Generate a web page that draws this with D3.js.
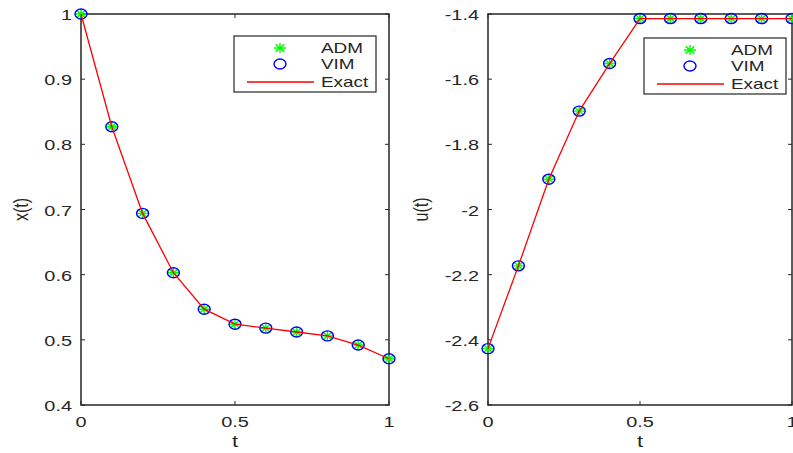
<!DOCTYPE html>
<html>
<head>
<meta charset="utf-8">
<script src="https://cdn.jsdelivr.net/npm/d3@7"></script>
<style>
  body { margin: 0; background: #fff; }
  svg { display: block; }
  text { font-family: "Liberation Sans", Arial, sans-serif; fill: #262626; }
</style>
</head>
<body>
<svg id="chart" width="793" height="453"></svg>
<script>
// values
const tValues = [0, 0.1, 0.2, 0.3, 0.4, 0.5, 0.6, 0.7, 0.8, 0.9, 1];
const xADM   = [1, 0.827, 0.694, 0.603, 0.547, 0.524, 0.518, 0.512, 0.506, 0.492, 0.471];
const xVIM   = [1, 0.827, 0.694, 0.603, 0.547, 0.524, 0.518, 0.512, 0.506, 0.492, 0.471];
const xExact = [1, 0.827, 0.694, 0.603, 0.547, 0.524, 0.518, 0.512, 0.506, 0.492, 0.471];
const uADM   = [-2.427, -2.173, -1.907, -1.698, -1.552, -1.414, -1.414, -1.414, -1.414, -1.414, -1.414];
const uVIM   = [-2.427, -2.173, -1.907, -1.698, -1.552, -1.414, -1.414, -1.414, -1.414, -1.414, -1.414];
const uExact = [-2.427, -2.173, -1.907, -1.698, -1.552, -1.414, -1.414, -1.414, -1.414, -1.414, -1.414];

const tTicks = [0, 0.5, 1];
const xTicks = [0.4, 0.5, 0.6, 0.7, 0.8, 0.9, 1];
const uTicks = [-2.6, -2.4, -2.2, -2, -1.8, -1.6, -1.4];
const legendLabels = ["ADM", "VIM", "Exact"];

const svg = d3.select("#chart");
const dark = "#262626";

const panels = [
  { x0: 81, x1: 389, y0: 14, y1: 405, domain: [0.4, 1], ticks: xTicks, label: "x(t)", labelX: 28,
    adm: xADM, vim: xVIM, exact: xExact, legend: { x: 234, y: 36, w: 142, h: 56 } },
  { x0: 488, x1: 792, y0: 14, y1: 405, domain: [-2.6, -1.4], ticks: uTicks, label: "u(t)", labelX: 428,
    adm: uADM, vim: uVIM, exact: uExact, legend: { x: 644, y: 38, w: 142, h: 56 } }
];

// text in the reference is drawn wide, so stretch it sideways
function wideText(g, x, y, str, anchor, size, stretch) {
  return g.append("text")
    .attr("transform", `translate(${x},${y}) scale(${stretch},1)`)
    .attr("text-anchor", anchor)
    .attr("font-size", size)
    .text(str);
}

function star(g, cx, cy) {
  const rx = 6, ry = 5;
  const d = `M${cx - rx},${cy}L${cx + rx},${cy}M${cx},${cy - ry}L${cx},${cy + ry}` +
    `M${cx - rx * 0.72},${cy - ry * 0.72}L${cx + rx * 0.72},${cy + ry * 0.72}` +
    `M${cx - rx * 0.72},${cy + ry * 0.72}L${cx + rx * 0.72},${cy - ry * 0.72}`;
  g.append("path").attr("d", d).attr("stroke", "#00ff00").attr("stroke-width", 1.4).attr("fill", "none");
}

function ring(g, cx, cy) {
  g.append("ellipse").attr("cx", cx).attr("cy", cy).attr("rx", 6).attr("ry", 5)
    .attr("fill", "none").attr("stroke", "#0000ff").attr("stroke-width", 1.4);
}

panels.forEach(p => {
  const xs = d3.scaleLinear().domain([0, 1]).range([p.x0, p.x1]);
  const ys = d3.scaleLinear().domain(p.domain).range([p.y1, p.y0]);
  const g = svg.append("g");

  // box
  g.append("rect").attr("x", p.x0).attr("y", p.y0)
    .attr("width", p.x1 - p.x0).attr("height", p.y1 - p.y0)
    .attr("fill", "none").attr("stroke", dark).attr("stroke-width", 1.5);

  // inward ticks, all four sides
  p.ticks.forEach(v => {
    const y = ys(v);
    g.append("line").attr("x1", p.x0).attr("x2", p.x0 + 4).attr("y1", y).attr("y2", y).attr("stroke", dark);
    g.append("line").attr("x1", p.x1).attr("x2", p.x1 - 4).attr("y1", y).attr("y2", y).attr("stroke", dark);
    wideText(g, p.x0 - 9, y + 6, String(+v.toFixed(1)), "end", 14, 1.42);
  });
  tTicks.forEach(v => {
    const x = xs(v);
    g.append("line").attr("x1", x).attr("x2", x).attr("y1", p.y1).attr("y2", p.y1 - 4).attr("stroke", dark);
    g.append("line").attr("x1", x).attr("x2", x).attr("y1", p.y0).attr("y2", p.y0 + 4).attr("stroke", dark);
    wideText(g, x, 427, String(v), "middle", 14, 1.42);
  });

  wideText(g, (p.x0 + p.x1) / 2, 447, "t", "middle", 17, 1.3);
  g.append("text")
    .attr("transform", `translate(${p.labelX},${(p.y0 + p.y1) / 2}) rotate(-90) scale(1,1.25)`)
    .attr("text-anchor", "middle").attr("font-size", 16).text(p.label);

  // markers then the exact line on top
  tValues.forEach((t, i) => star(g, xs(t), ys(p.adm[i])));
  tValues.forEach((t, i) => ring(g, xs(t), ys(p.vim[i])));
  const line = d3.line().x((d, i) => xs(tValues[i])).y(d => ys(d));
  g.append("path").datum(p.exact).attr("d", line)
    .attr("fill", "none").attr("stroke", "#ff0000").attr("stroke-width", 1.3);

  // legend
  const L = p.legend;
  g.append("rect").attr("x", L.x).attr("y", L.y).attr("width", L.w).attr("height", L.h)
    .attr("fill", "#fff").attr("stroke", dark).attr("stroke-width", 1.2);
  const rowY = [L.y + 12, L.y + 28, L.y + 46];
  const mx = L.x + 46;
  star(g, mx, rowY[0]);
  ring(g, mx, rowY[1]);
  g.append("line").attr("x1", L.x + 13).attr("x2", L.x + 80).attr("y1", rowY[2]).attr("y2", rowY[2])
    .attr("stroke", "#ff0000").attr("stroke-width", 1.3);
  legendLabels.forEach((s, i) => wideText(g, L.x + 87, rowY[i] + 5, s, "start", 14, 1.35));
});
</script>
</body>
</html>
